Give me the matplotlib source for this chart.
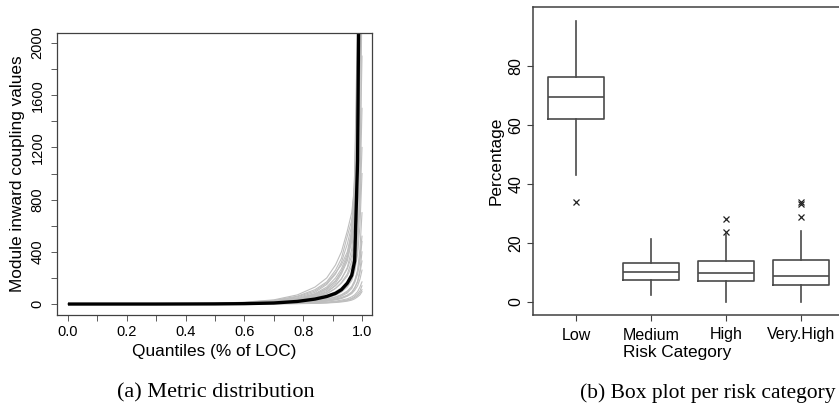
import numpy as np
import matplotlib
matplotlib.use("Agg")
from matplotlib import pyplot as plt
from matplotlib.ticker import MultipleLocator

plt.rcParams['font.family'] = ['Liberation Sans', 'DejaVu Sans']

# ---- panel (a): quantile curves of the metric, one grey line per system ----
quantiles = [0.0, 0.3, 0.5, 0.6, 0.7, 0.78, 0.84, 0.88, 0.91, 0.93, 0.95,
             0.965, 0.975, 0.985, 0.993, 1.0]

system_curves = [
    [0, 1, 3, 6, 14, 30, 55, 90, 140, 190, 280, 420, 650, 1300, 2600, 4000],
    [0, 1, 4, 9, 22, 48, 90, 150, 230, 320, 460, 600, 900, 1800, 3000, 5000],
    [0, 0, 2, 4, 9, 18, 32, 50, 75, 100, 140, 190, 260, 420, 900, 2400],
    [0, 0, 1, 3, 6, 12, 20, 30, 44, 60, 85, 120, 170, 260, 420, 700],
    [0, 1, 5, 12, 28, 60, 110, 170, 260, 350, 520, 640, 760, 1500, 2400, 3500],
    [0, 0, 1, 2, 4, 8, 14, 22, 32, 42, 60, 80, 105, 140, 190, 260],
    [0, 1, 3, 7, 16, 35, 65, 105, 160, 230, 330, 480, 700, 1100, 2200, 3000],
    [0, 0, 1, 2, 3, 6, 10, 15, 22, 30, 40, 55, 70, 95, 130, 170],
    [0, 1, 4, 10, 24, 55, 100, 160, 240, 300, 400, 560, 1000, 2200, 3500, 5000],
    [0, 0, 2, 5, 11, 24, 42, 65, 95, 125, 170, 240, 330, 520, 850, 1500],
    [0, 0, 1, 1, 2, 4, 7, 10, 15, 20, 28, 38, 50, 65, 85, 110],
    [0, 1, 3, 8, 19, 40, 75, 120, 180, 250, 350, 500, 800, 1600, 2800, 4200],
    [0, 0, 2, 4, 10, 22, 38, 60, 88, 115, 160, 220, 310, 480, 750, 1200],
    [0, 0, 1, 3, 7, 14, 25, 38, 55, 72, 100, 135, 180, 250, 360, 520],
    [0, 1, 6, 14, 32, 70, 130, 200, 300, 400, 560, 700, 900, 1400, 2100, 2900],
    [0, 0, 0, 1, 2, 3, 5, 8, 12, 16, 22, 30, 40, 55, 70, 95],
    [0, 0, 2, 5, 12, 26, 48, 78, 120, 165, 230, 330, 480, 800, 1700, 2600],
    [0, 1, 3, 7, 15, 32, 60, 95, 145, 195, 270, 370, 540, 950, 1900, 3200],
    [0, 0, 1, 2, 5, 10, 17, 26, 38, 50, 68, 92, 125, 170, 240, 330],
    [0, 1, 4, 9, 20, 42, 80, 130, 200, 270, 380, 520, 720, 1200, 2300, 3800],
    [0, 0, 1, 2, 4, 9, 15, 24, 35, 46, 64, 88, 120, 175, 260, 400],
    [0, 1, 3, 6, 13, 28, 50, 80, 120, 160, 215, 290, 400, 650, 1100, 1900],
    [0, 0, 2, 4, 8, 16, 28, 45, 68, 92, 130, 180, 250, 380, 600, 1000],
    [0, 0, 1, 2, 3, 5, 8, 12, 17, 23, 32, 44, 58, 78, 100, 140],
    [0, 1, 4, 8, 18, 38, 70, 115, 175, 245, 360, 560, 950, 1900, 3300, 4800],
    [0, 0, 1, 3, 6, 13, 23, 36, 52, 68, 92, 125, 165, 230, 330, 480],
]
overall_curve = [0, 0, 1, 3, 8, 20, 38, 58, 82, 110, 160, 220, 330, 1100, 3500, 6000]

# ---- panel (b): box plot per risk category (Tukey stats) ----
risk_categories = ['Low', 'Medium', 'High', 'Very.High']
box_q1 = [62.1, 7.5, 7.1, 5.6]
box_median = [69.5, 10.2, 9.6, 8.8]
box_q3 = [76.3, 13.0, 13.7, 14.0]
whisker_low = [43.0, 2.2, 0.0, 0.0]
whisker_high = [95.3, 21.2, 22.5, 23.9]
box_outliers = [[34.0], [], [28.0, 23.8], [34.0, 33.3, 28.7]]

W, H = 839, 412
fig = plt.figure(figsize=(W / 100, H / 100), dpi=100)


def px_axes(left, top, right, bottom):
    return fig.add_axes([left / W, 1 - bottom / H, (right - left) / W, (bottom - top) / H])


edge = '#404040'

# panel (a)
ax1 = px_axes(57, 33, 372, 315)
for curve in system_curves:
    ax1.plot(quantiles, curve, color='#BEBEBE', lw=0.8)
ax1.plot(quantiles, overall_curve, color='black', lw=2.4, solid_capstyle='butt')
ax1.set_xlim(-0.0374, 1.034)
ax1.set_ylim(-84, 2077)
ax1.set_xticks(np.arange(0, 1.01, 0.2))
ax1.set_xticklabels(['0.0', '0.2', '0.4', '0.6', '0.8', '1.0'])
ax1.xaxis.set_minor_locator(MultipleLocator(0.1))
ax1.set_yticks(np.arange(0, 2001, 400))
ax1.yaxis.set_minor_locator(MultipleLocator(200))
ax1.tick_params(axis='both', which='both', length=4, width=0.6, color=edge,
                labelsize=10.5, pad=3)
ax1.tick_params(axis='y', pad=5)
for lab in ax1.get_yticklabels():
    lab.set_rotation(90)
    lab.set_va('center')
for sp in ax1.spines.values():
    sp.set_color(edge)
    sp.set_linewidth(0.9)
ax1.set_xlabel('Quantiles (% of LOC)', fontsize=12.4, labelpad=4)
ax1.set_ylabel('Module inward coupling values', fontsize=12.4, labelpad=4)

# panel (b)
ax2 = px_axes(533, 7, 845, 315)
stats = []
for i, name in enumerate(risk_categories):
    stats.append(dict(label=name, q1=box_q1[i], med=box_median[i], q3=box_q3[i],
                      whislo=whisker_low[i], whishi=whisker_high[i],
                      fliers=box_outliers[i]))
line_style = dict(color='#4a4a4a', lw=1.2)
ax2.bxp(stats, positions=range(1, len(stats) + 1), widths=0.75,
        showcaps=False,
        boxprops=line_style, medianprops=line_style, whiskerprops=line_style,
        flierprops=dict(marker='x', markersize=5, markeredgecolor='#222222',
                        markeredgewidth=0.9, linestyle='none'))
ax2.set_xlim(0.4267, 4.587)
ax2.set_ylim(-4.5, 100.0)
ax2.set_yticks([0, 20, 40, 60, 80])
ax2.tick_params(axis='x', length=4, width=0.8, color=edge, labelsize=11.5, pad=5)
ax2.tick_params(axis='y', length=4, width=0.8, color=edge, labelsize=11.5, pad=3)
for lab in ax2.get_yticklabels():
    lab.set_rotation(90)
    lab.set_va('center')
ax2.spines['right'].set_visible(False)
for sp in ax2.spines.values():
    sp.set_color(edge)
    sp.set_linewidth(1.1)
ax2.set_ylabel('Percentage', fontsize=12.4, labelpad=3)
ax2.set_xlabel('Risk Category', fontsize=12.4)
ax2.xaxis.set_label_coords((677.5 - 533) / (845 - 533), -0.096)

# captions
fig.text(216 / W, 1 - 393 / H, '(a) Metric distribution', ha='center', va='center',
         fontsize=16, family=['Liberation Serif', 'DejaVu Serif'])
fig.text(708 / W, 1 - 393 / H, '(b) Box plot per risk category', ha='center', va='center',
         fontsize=15.5, family=['Liberation Serif', 'DejaVu Serif'])

fig.savefig('out.png', dpi=100)
